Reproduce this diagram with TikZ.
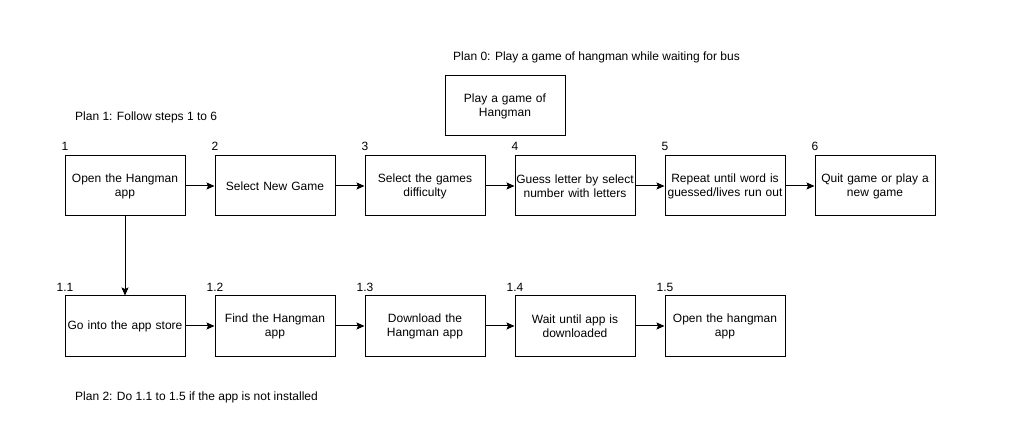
\documentclass[tikz,border=0pt]{standalone}
\usepackage{fontspec}
\setmainfont{Liberation Sans}
\usetikzlibrary{arrows.meta}
\begin{document}
\begin{tikzpicture}[x=1pt,y=-1pt,
  every node/.style={font=\fontsize{12}{14}\selectfont},
  box/.style={draw,line width=1pt,minimum width=120pt,minimum height=60pt,text width=118pt,align=center,inner sep=0pt},
  num/.style={inner sep=0pt,anchor=center},
  plan/.style={inner sep=0pt,anchor=west},
  arr/.style={line width=1pt,-{Stealth[length=8pt,width=7pt,inset=1.5pt]}}]
\useasboundingbox (0,0) rectangle (1014,427);
\node[box] (p0) at (505,106) {Play a game of\\Hangman};
\node[box] (b1) at (125,186) {Open the Hangman\\app};
\node[box] (b2) at (275,186) {Select New Game};
\node[box] (b3) at (425,186) {Select the games\\difficulty};
\node[box] (b4) at (575,186) {Guess letter by select\\number with letters};
\node[box] (b5) at (725,186) {Repeat until word is\\guessed/lives run out};
\node[box] (b6) at (875,186) {Quit game or play a\\new game};
\node[box] (c1) at (125,326) {Go into the app store};
\node[box] (c2) at (275,326) {Find the Hangman\\app};
\node[box] (c3) at (425,326) {Download the\\Hangman app};
\node[box] (c4) at (575,326) {Wait until app is\\downloaded};
\node[box] (c5) at (725,326) {Open the hangman\\app};
\node[num] (n1) at (65,146) {1};
\node[num] (n2) at (215,146) {2};
\node[num] (n3) at (365,146) {3};
\node[num] (n4) at (515,146) {4};
\node[num] (n5) at (665,146) {5};
\node[num] (n6) at (815,146) {6};
\node[num] (m1) at (65,287) {1.1};
\node[num] (m2) at (215,287) {1.2};
\node[num] (m3) at (365,287) {1.3};
\node[num] (m4) at (515,287) {1.4};
\node[num] (m5) at (665,287) {1.5};
\node[plan] (pl0) at (453,57) {Plan 0: Play a game of hangman while waiting for bus};
\node[plan] (pl1) at (75,117) {Plan 1: Follow steps 1 to 6};
\node[plan] (pl2) at (75,397) {Plan 2: Do 1.1 to 1.5 if the app is not installed};
\draw[arr] (b1) -- (b2);
\draw[arr] (b2) -- (b3);
\draw[arr] (b3) -- (b4);
\draw[arr] (b4) -- (b5);
\draw[arr] (b5) -- (b6);
\draw[arr] (c1) -- (c2);
\draw[arr] (c2) -- (c3);
\draw[arr] (c3) -- (c4);
\draw[arr] (c4) -- (c5);
\draw[arr] (b1) -- (c1);
\end{tikzpicture}
\end{document}
